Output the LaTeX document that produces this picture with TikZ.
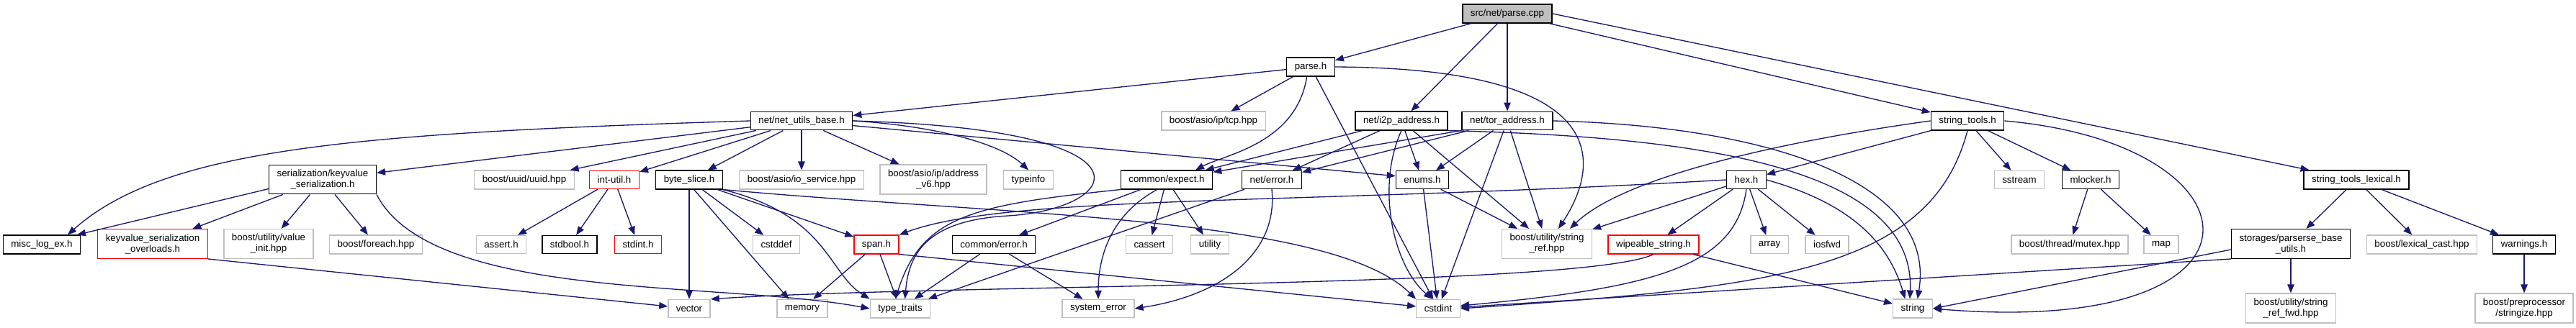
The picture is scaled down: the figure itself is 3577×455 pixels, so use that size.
\documentclass[tikz,border=0pt]{standalone}
\usepackage{fontspec}
\setmainfont{Liberation Sans}
\usepackage{xcolor}
\usepackage{tikz}
\usetikzlibrary{arrows.meta}

\definecolor{edgeblue}{HTML}{191970}
\definecolor{extgray}{HTML}{BFBFBF}
\definecolor{rootgray}{HTML}{BFBFBF}
\definecolor{truncred}{HTML}{FF0000}

\begin{document}
\begin{tikzpicture}[
  x=0.75pt, y=-0.75pt,
  box/.style={
    draw, rectangle, line width=1pt, fill=white,
    minimum height=18.75pt, inner xsep=8.25pt, inner ysep=5pt,
    align=center, font=\fontsize{10}{11.25}\selectfont
  },
  inc/.style={box, draw=black},
  ext/.style={box, draw=extgray},
  trunc/.style={box, draw=truncred},
  srcbox/.style={box, draw=black, fill=rootgray},
  lnk/.style={->, >={Triangle[length=9pt,width=7pt]},
    line width=1pt, draw=edgeblue, fill=none},
]
\useasboundingbox (0,0) rectangle (3577,455);

%% top
\node[srcbox] (pcpp) at (2093,19) {src/net/parse.cpp};
\node[inc] (parseh) at (1820,93) {parse.h};

%% second row
\node[inc] (nub) at (1113,168) {net/net\_utils\_base.h};
\node[ext] (tcp) at (1685,168) {boost/asio/ip/tcp.hpp};
\node[inc] (i2p) at (1946,168) {net/i2p\_address.h};
\node[inc] (tor) at (2093,168) {net/tor\_address.h};
\node[inc] (stools) at (2732,168) {string\_tools.h};

%% third row
\node[inc] (kvser) at (448,249.5) {serialization/keyvalue\\\_serialization.h};
\node[ext] (uuid) at (728,250) {boost/uuid/uuid.hpp};
\node[trunc] (intutil) at (853,250) {int-util.h};
\node[inc] (bslice) at (957,250) {byte\_slice.h};
\node[ext] (iosvc) at (1113,250) {boost/asio/io\_service.hpp};
\node[ext] (addr6) at (1296,249.5) {boost/asio/ip/address\\\_v6.hpp};
\node[ext] (tinfo) at (1428,250) {typeinfo};
\node[inc] (expect) at (1620,250) {common/expect.h};
\node[inc] (nerr) at (1766,250) {net/error.h};
\node[inc] (enums) at (1975,250) {enums.h};
\node[inc] (hex) at (2425,250) {hex.h};
\node[ext] (sstream) at (2804,250) {sstream};
\node[inc] (mlocker) at (2903,250) {mlocker.h};
\node[inc] (stlex) at (3272,250) {string\_tools\_lexical.h};

%% fourth row
\node[inc] (misc) at (58,340) {misc\_log\_ex.h};
\node[trunc] (kvov) at (212,339) {keyvalue\_serialization\\\_overloads.h};
\node[ext] (vinit) at (373,339) {boost/utility/value\\\_init.hpp};
\node[ext] (foreach) at (522,340) {boost/foreach.hpp};
\node[ext] (assert) at (696,340) {assert.h};
\node[inc] (stdbool) at (791,340) {stdbool.h};
\node[trunc] (stdint) at (886,340) {stdint.h};
\node[ext] (cstddef) at (1078,340) {cstddef};
\node[trunc] (span) at (1217,340) {span.h};
\node[inc] (cerr) at (1380,340) {common/error.h};
\node[ext] (cassert) at (1596,340) {cassert};
\node[ext] (utility) at (1680,340) {utility};
\node[ext] (sref) at (2148,339) {boost/utility/string\\\_ref.hpp};
\node[trunc] (wipe) at (2296,340) {wipeable\_string.h};
\node[ext] (array) at (2457,340) {array};
\node[ext] (iosfwd) at (2537,340) {iosfwd};
\node[ext] (mutex) at (2874,340) {boost/thread/mutex.hpp};
\node[ext] (map) at (3001,340) {map};
\node[inc] (pbu) at (3181,339) {storages/parserse\_base\\\_utils.h};
\node[ext] (lexcast) at (3363,340) {boost/lexical\_cast.hpp};
\node[inc] (warn) at (3505,340) {warnings.h};

%% bottom row
\node[ext] (vector) at (957,429) {vector};
\node[ext] (memory) at (1114,429) {memory};
\node[ext] (tt) at (1250,429) {type\_traits};
\node[ext] (syserr) at (1525,429) {system\_error};
\node[ext] (cstdint) at (1997,429) {cstdint};
\node[ext] (string) at (2656,429) {string};
\node[ext] (sfwd) at (3181,428.5) {boost/utility/string\\\_ref\_fwd.hpp};
\node[ext] (strz) at (3505,428.5) {boost/preprocessor\\/stringize.hpp};

%% src/net/parse.cpp
\draw[lnk] (pcpp) -- (parseh);
\draw[lnk] (pcpp) -- (i2p);
\draw[lnk] (pcpp) -- (tor);
\draw[lnk] (pcpp) -- (stools);
\draw[lnk] (pcpp.east) -- (stlex);

%% parse.h
\draw[lnk] (parseh) -- (nub);
\draw[lnk] (parseh) -- (tcp);
\draw[lnk] ([xshift=-4pt]parseh.south) .. controls (1800,200) and (1700,215) .. ([xshift=30pt]expect.north);
\draw[lnk] (parseh) -- (cstdint);
\draw[lnk] (parseh.east) .. controls (2260,95) and (2215,240) .. ([xshift=12pt]sref.north);

%% net/net_utils_base.h
\draw[lnk] (nub.west) .. controls (500,185) and (230,205) .. ([xshift=27pt]misc.north);
\draw[lnk] (nub) -- (kvser);
\draw[lnk] (nub) -- (uuid);
\draw[lnk] (nub) -- (intutil);
\draw[lnk] (nub) -- (bslice);
\draw[lnk] (nub) -- (iosvc);
\draw[lnk] (nub) -- (addr6);
\draw[lnk] (nub.east) .. controls (1300,175) and (1390,200) .. (tinfo.north);
\draw[lnk] (nub.east) .. controls (1620,180) and (1560,290) .. (1400,300)
  .. controls (1290,306) and (1262,350) .. ([xshift=5pt]tt.north);
\draw[lnk] (nub) -- ([yshift=4pt]enums.west);

%% serialization/keyvalue_serialization.h
\draw[lnk] ([yshift=6pt]kvser.south west) -- ([xshift=-4pt]misc.north east);
\draw[lnk] (kvser) -- (kvov);
\draw[lnk] (kvser) -- (vinit);
\draw[lnk] (kvser) -- (foreach);
\draw[lnk] (kvser.south east) .. controls (600,420) and (1000,390) .. (tt.west);
\draw[lnk] (kvov.south east) -- (vector);

%% int-util.h
\draw[lnk] (intutil) -- (assert);
\draw[lnk] (intutil) -- (stdbool);
\draw[lnk] (intutil) -- (stdint);

%% byte_slice.h
\draw[lnk] (bslice) -- (vector);
\draw[lnk] ([xshift=5pt]bslice.south) -- ([xshift=-14pt]memory.north);
\draw[lnk] (bslice) -- (cstddef);
\draw[lnk] (bslice) -- (span);
\draw[lnk] (bslice.south east) .. controls (1150,300) and (1150,380) .. (tt.north west);
\draw[lnk] (bslice.south east) .. controls (1400,300) and (1850,300) .. (cstdint.north west);

%% span.h
\draw[lnk] (span) -- (memory);
\draw[lnk] (span) -- (tt);
\draw[lnk] (span.south east) -- (cstdint);

%% common/expect.h
\draw[lnk] (expect) -- (cerr);
\draw[lnk] ([xshift=-10pt]expect.south) .. controls (1540,300) and (1525,360) .. (syserr.north);
\draw[lnk] (expect) -- (cassert);
\draw[lnk] (expect) -- (utility);
\draw[lnk] (expect.south west) .. controls (1350,285) and (1280,300) .. ([xshift=-5pt]tt.north);

%% common/error.h
\draw[lnk] (cerr) -- (tt);
\draw[lnk] (cerr) -- (syserr);

%% net/error.h
\draw[lnk] (nerr) -- (tt);
\draw[lnk] (nerr.south) .. controls (1775,350) and (1700,410) .. (syserr.east);

%% enums.h
\draw[lnk] (enums) -- (cstdint);
\draw[lnk] (enums) -- (sref);

%% net/i2p_address.h
\draw[lnk] (i2p) -- (expect);
\draw[lnk] (i2p) -- (nerr);
\draw[lnk] (i2p) -- (enums);
\draw[lnk] (i2p.south) .. controls (1910,260) and (1935,370) .. ([xshift=-6pt]cstdint.north);
\draw[lnk] (i2p) -- (sref);
\draw[lnk] (i2p.south east) .. controls (2350,190) and (2660,230) .. ([xshift=-3pt]string.north);

%% net/tor_address.h
\draw[lnk] (tor.south west) -- (expect);
\draw[lnk] (tor) -- (nerr);
\draw[lnk] (tor) -- (enums);
\draw[lnk] (tor) -- (cstdint);
\draw[lnk] (tor) -- (sref);
\draw[lnk] (tor.east) .. controls (2450,175) and (2690,250) .. ([xshift=5pt]string.north);

%% string_tools.h
\draw[lnk] (stools.west) .. controls (2450,200) and (2250,250) .. ([xshift=24pt]sref.north);
\draw[lnk] (stools) -- (hex);
\draw[lnk] (stools.south) .. controls (2680,380) and (2450,400) .. (cstdint.east);
\draw[lnk] (stools) -- (sstream);
\draw[lnk] (stools) -- (mlocker);
\draw[lnk] (stools.east) .. controls (3150,200) and (3180,470) .. (string.east);

%% hex.h
\draw[lnk] (hex.west) .. controls (1800,285) and (1400,270) .. (span.north east);
\draw[lnk] (hex) -- (sref);
\draw[lnk] (hex) -- (wipe);
\draw[lnk] (hex) -- (array);
\draw[lnk] (hex) -- (iosfwd);
\draw[lnk] (hex.south) .. controls (2410,370) and (2300,400) .. ([yshift=3pt]cstdint.east);
\draw[lnk] (hex.east) .. controls (2560,280) and (2620,330) .. ([xshift=-8pt]string.north);

%% wipeable_string.h
\draw[lnk] (wipe.south) .. controls (2200,400) and (1300,395) .. (vector.north east);
\draw[lnk] (wipe) -- (string);

%% mlocker.h
\draw[lnk] (mlocker) -- (mutex);
\draw[lnk] (mlocker) -- (map);

%% string_tools_lexical.h
\draw[lnk] (stlex) -- (pbu);
\draw[lnk] (stlex) -- (lexcast);
\draw[lnk] (stlex) -- (warn);

%% storages/parserse_base_utils.h
\draw[lnk] (pbu) -- (sfwd);
\draw[lnk] ([yshift=-6pt]pbu.west) -- (string.east);
\draw[lnk] (pbu.south west) -- (cstdint);

%% warnings.h
\draw[lnk] (warn) -- (strz);
\end{tikzpicture}
\end{document}
